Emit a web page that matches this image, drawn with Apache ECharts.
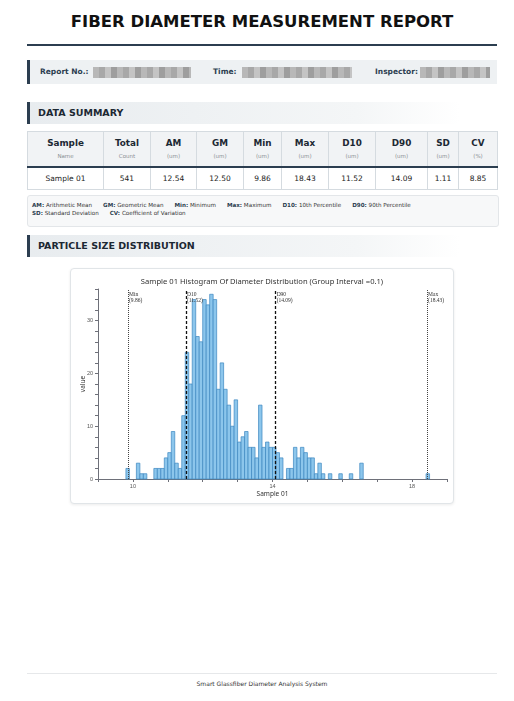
<!DOCTYPE html>
<html>
<head>
<meta charset="utf-8">
<script src="https://cdn.jsdelivr.net/npm/echarts@6/dist/echarts.min.js"></script>
<style>
  html, body { margin: 0; padding: 0; background: #fff; }
  body { width: 514px; height: 701px; position: relative; overflow: hidden; font-family: "DejaVu Sans", sans-serif; color: #222; }
  .abs { position: absolute; }
  #title { left: 0; width: 524px; top: 12px; text-align: center; font-size: 16.5px; font-weight: bold; letter-spacing: 0; color: #111; }
  #rule { left: 27px; width: 470px; top: 44px; height: 2px; background: #2c3e50; }
  #info { left: 27px; width: 467px; top: 60px; height: 24px; background: #eef1f3; border-left: 3px solid #2c3e50; }
  .lab { position: absolute; top: 7px; font-size: 7.5px; font-weight: bold; color: #2c3e50; }
  .blur { position: absolute; top: 7px; height: 11px; filter: blur(0.6px);
          background: repeating-linear-gradient(90deg, #b8b8b8 0 6px, #a8a8a8 6px 12px, #c4c4c4 12px 18px, #9e9e9e 18px 24px); }
  .sect { left: 27px; width: 467px; height: 22px; border-left: 3px solid #2c3e50;
          background: linear-gradient(90deg, #e8ecef 0%, #f4f6f7 70%, #ffffff 92%); }
  .sect span { position: absolute; left: 8px; top: 5px; font-size: 9.5px; font-weight: bold; color: #1c2833; }
  table { position: absolute; left: 27px; top: 131px; width: 470px; border-collapse: collapse; table-layout: fixed; }
  th, td { border: 1px solid #d5dbe0; text-align: center; padding: 0; }
  th { background: #f1f3f5; height: 34px; border-bottom: 2px solid #2c3e50; font-weight: bold; font-size: 8.8px; color: #1c2833; line-height: 10px; }
  th small { display: block; font-weight: normal; font-size: 5.5px; color: #8a8f94; margin-top: 3px; }
  td { height: 21px; font-size: 7.5px; color: #222; }
  #legend { left: 27px; width: 462px; top: 195px; height: 21px; padding: 5px 4px 4px 4px; background: #f7f8f9; border: 1px solid #e3e6e9; border-radius: 3px; font-size: 5.6px; line-height: 8px; color: #333; }
  #legend b { color: #2c3e50; }
  #legend span { margin-right: 11px; }
  #chartBox { left: 70px; top: 268px; width: 382px; height: 234px; border: 1px solid #e1e5e8; border-radius: 4px; box-shadow: 0 1px 3px rgba(0,0,0,0.08); background: #fff; }
  #chart { position: absolute; left: 0; top: 0; width: 382px; height: 234px; }
  #footLine { left: 27px; width: 470px; top: 673px; height: 1px; background: #e6e8ea; }
  #foot { left: 0; width: 524px; top: 680px; text-align: center; font-size: 6px; color: #333; }
</style>
</head>
<body>
<div id="title" class="abs">FIBER DIAMETER MEASUREMENT REPORT</div>
<div id="rule" class="abs"></div>
<div id="info" class="abs">
  <span class="lab" style="left:10px">Report No.:</span>
  <div class="blur" style="left:63px;width:98px"></div>
  <span class="lab" style="left:183px">Time:</span>
  <div class="blur" style="left:212px;width:110px"></div>
  <span class="lab" style="left:345px">Inspector:</span>
  <div class="blur" style="left:390px;width:70px"></div>
</div>
<div class="abs sect" style="top:102px"><span>DATA SUMMARY</span></div>
<table id="summary"></table>
<div id="legend" class="abs"></div>
<div class="abs sect" style="top:235px"><span>PARTICLE SIZE DISTRIBUTION</span></div>
<div id="chartBox" class="abs"><div id="chart"></div></div>
<div id="footLine" class="abs"></div>
<div id="foot" class="abs">Smart Glassfiber Diameter Analysis System</div>

<script>
// summary table
var colNames = ['Sample', 'Total', 'AM', 'GM', 'Min', 'Max', 'D10', 'D90', 'SD', 'CV'];
var colUnits = ['Name', 'Count', '(um)', '(um)', '(um)', '(um)', '(um)', '(um)', '(um)', '(%)'];
var rowValues = ['Sample 01', '541', '12.54', '12.50', '9.86', '18.43', '11.52', '14.09', '1.11', '8.85'];
var colWidths = [76, 47, 46, 47, 38, 47, 47, 52, 31, 39];

// abbreviations
var legendKeys = ['AM', 'GM', 'Min', 'Max', 'D10', 'D90', 'SD', 'CV'];
var legendText = ['Arithmetic Mean', 'Geometric Mean', 'Minimum', 'Maximum', '10th Percentile', '90th Percentile', 'Standard Deviation', 'Coefficient of Variation'];

// histogram (bin centres, group interval 0.1)
var groupInterval = 0.1;
var binCenters = [9.85, 10.15, 10.25, 10.35, 10.65, 10.75, 10.85, 10.95, 11.05, 11.15, 11.25, 11.35,
  11.45, 11.55, 11.65, 11.75, 11.85, 11.95, 12.05, 12.15, 12.25, 12.35,
  12.45, 12.55, 12.65, 12.75, 12.85, 12.95, 13.05, 13.15, 13.25, 13.35, 13.45, 13.55,
  13.65, 13.75, 13.85, 13.95, 14.05, 14.15, 14.25,
  14.45, 14.55, 14.65, 14.75, 14.85, 14.95, 15.05, 15.15, 15.25, 15.35, 15.45,
  15.65, 15.95, 16.25, 16.55, 18.45];
var binCounts = [2, 3, 1, 1, 2, 2, 2, 4, 5, 9, 3, 2,
  12, 24, 18, 34, 27, 26, 34, 33, 35, 34,
  17, 22, 17, 14, 10, 15, 7, 8, 9, 6, 6, 4,
  14, 6, 7, 6, 6, 5, 4,
  2, 2, 6, 4, 6, 5, 4, 4, 1, 3, 1,
  1, 1, 1, 3, 1];

var markerNames = ['Min', 'D10', 'D90', 'Max'];
var markerValues = [9.86, 11.52, 14.09, 18.43];
var xTickLabels = [10, 14, 18];
var yTickLabels = [0, 10, 20, 30];

// build table
var html = '<colgroup>' + colWidths.map(function (w) { return '<col style="width:' + w + 'px">'; }).join('') + '</colgroup>';
html += '<tr>' + colNames.map(function (n, i) { return '<th>' + n + '<small>' + colUnits[i] + '</small></th>'; }).join('') + '</tr>';
html += '<tr>' + rowValues.map(function (v) { return '<td>' + v + '</td>'; }).join('') + '</tr>';
document.getElementById('summary').innerHTML = html;

var lg = '';
legendKeys.forEach(function (k, i) {
  lg += '<span><b>' + k + ':</b> ' + legendText[i] + '</span>';
  if (i === 5) lg += '<br>';
});
document.getElementById('legend').innerHTML = lg;

// chart
var chart = echarts.init(document.getElementById('chart'), null, { renderer: 'canvas' });
var markerStyles = {
  Min: { type: 'dotted', width: 1, color: '#444' },
  Max: { type: 'dotted', width: 1, color: '#444' },
  D10: { type: [3, 2], width: 1.3, color: '#111' },
  D90: { type: [3, 2], width: 1.3, color: '#111' }
};
var yMax = 36;

var option = {
  animation: false,
  title: {
    text: 'Sample 01 Histogram Of Diameter Distribution (Group Interval =0.1)',
    left: 'center', top: 4,
    textStyle: { fontSize: 7.6, fontWeight: 'normal', color: '#333', fontFamily: 'Noto Sans' }
  },
  grid: { left: 27, right: 6, top: 20, bottom: 24, containLabel: false, outerBoundsMode: 'none' },
  xAxis: {
    type: 'value', min: 9, max: 19, interval: 1,
    name: 'Sample 01', nameLocation: 'middle', nameGap: 12, nameMoveOverlap: false,
    nameTextStyle: { fontSize: 6.5, color: '#333', fontFamily: 'Noto Sans' },
    axisLine: { show: true, lineStyle: { color: '#6e7079' } },
    axisTick: { show: true, length: 3, lineStyle: { color: '#6e7079' } },
    axisLabel: {
      fontSize: 5.5, color: '#555', margin: 4,
      formatter: function (v) { return xTickLabels.indexOf(v) >= 0 ? String(v) : ''; }
    },
    splitLine: { show: false }
  },
  yAxis: {
    type: 'value', min: 0, max: yMax, interval: 2,
    name: 'value', nameLocation: 'middle', nameGap: 11, nameMoveOverlap: false,
    nameTextStyle: { fontSize: 6.5, color: '#333', fontFamily: 'Noto Sans' },
    axisLine: { show: true, lineStyle: { color: '#6e7079' } },
    axisTick: { show: true, length: 3, lineStyle: { color: '#6e7079' } },
    axisLabel: {
      fontSize: 5.5, color: '#555', margin: 5,
      formatter: function (v) { return yTickLabels.indexOf(v) >= 0 ? String(v) : ''; }
    },
    splitLine: { show: false }
  },
  series: [{
    type: 'custom',
    data: binCenters.map(function (c, i) { return [c, binCounts[i]]; }),
    encode: { x: 0, y: 1 },
    renderItem: function (params, api) {
      var c = api.value(0), n = api.value(1);
      var p0 = api.coord([c - groupInterval / 2, n]);
      var p1 = api.coord([c + groupInterval / 2, 0]);
      return {
        type: 'rect',
        shape: { x: p0[0], y: p0[1], width: p1[0] - p0[0], height: p1[1] - p0[1] },
        style: { fill: '#8cc6ec', stroke: '#3c86c0', lineWidth: 0.7 }
      };
    },
    markLine: {
      silent: true, symbol: 'none', animation: false,
      label: { show: false },
      data: markerNames.map(function (n, i) {
        return { xAxis: markerValues[i], lineStyle: markerStyles[n] };
      })
    },
    markPoint: {
      silent: true, symbol: 'circle', symbolSize: 0, animation: false,
      data: markerNames.map(function (n, i) {
        return {
          coord: [markerValues[i], yMax],
          label: {
            show: true, position: [1, 3],
            formatter: n + '\n(' + markerValues[i].toFixed(2) + ')',
            fontFamily: 'Liberation Serif', fontSize: 5.5, lineHeight: 5.8, color: '#333'
          }
        };
      })
    }
  }]
};
chart.setOption(option);
</script>
</body>
</html>
